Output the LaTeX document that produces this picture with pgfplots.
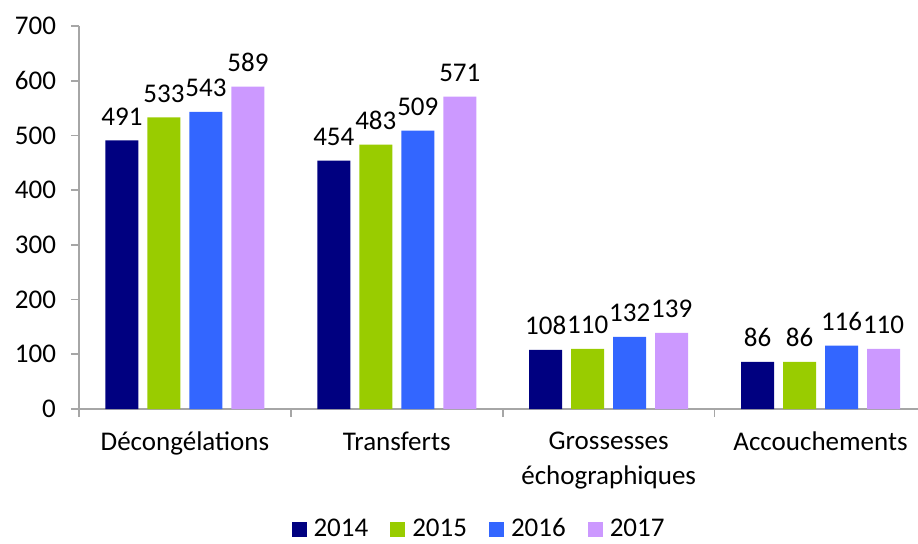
\documentclass[border=0pt]{standalone}
\usepackage{fontspec}
\setmainfont{Carlito}
\usepackage{pgfplots}
\pgfplotsset{compat=1.18}
\definecolor{c14}{HTML}{000080}
\definecolor{c15}{HTML}{99CC00}
\definecolor{c16}{HTML}{3366FF}
\definecolor{c17}{HTML}{CC99FF}
\definecolor{axgray}{HTML}{A6A6A6}
\begin{document}
\begin{tikzpicture}
\begin{axis}[
  at={(39.5pt,67pt)}, anchor=south west,
  scale only axis, width=419.5pt, height=191.5pt,
  xmin=-0.5, xmax=3.46, ymin=0, ymax=700,
  axis lines=left, axis line style={axgray, line width=0.8pt, -},
  ytick={0,100,...,700},
  xtick={-0.5,0.5,1.5,2.5}, xticklabels={},
  extra x ticks={0,1,2,3},
  extra x tick labels={Décongélations,Transferts,{Grossesses\\échographiques},Accouchements},
  extra x tick style={major tick length=0pt, tick label style={align=center, anchor=north, yshift=-8pt}},
  tick style={axgray, line width=0.8pt},
  major tick length=4pt,
  tick align=outside,
  /pgf/number format/assume math mode=true,
  tick label style={font=\fontsize{13.5}{17.5}\selectfont, black},
  yticklabel style={xshift=-4pt},
  ybar=4.5pt, bar width=16.5pt,
  nodes near coords,
  every node near coord/.append style={font=\fontsize{13.5}{16}\selectfont, black, yshift=4pt},
  legend columns=4,
  legend style={at={(0.478,0)}, anchor=center, yshift=-60pt, draw=none,
     font=\fontsize{13.5}{16}\selectfont,
     /tikz/every odd column/.append style={column sep=1.5pt},
     /tikz/every even column/.append style={column sep=9pt}},
  legend image code/.code={\fill[#1] (0pt,-3.75pt) rectangle (7.5pt,3.75pt);},
  clip=false,
]
\addplot[fill=c14, draw=none] coordinates {(0,491) (1,454) (2,108) (3,86)};
\addplot[fill=c15, draw=none] coordinates {(0,533) (1,483) (2,110) (3,86)};
\addplot[fill=c16, draw=none] coordinates {(0,543) (1,509) (2,132) (3,116)};
\addplot[fill=c17, draw=none] coordinates {(0,589) (1,571) (2,139) (3,110)};
\legend{2014,2015,2016,2017}
\end{axis}
\pgfresetboundingbox
\path[use as bounding box] (0,0) rectangle (459pt,271.5pt);
\end{tikzpicture}
\end{document}
